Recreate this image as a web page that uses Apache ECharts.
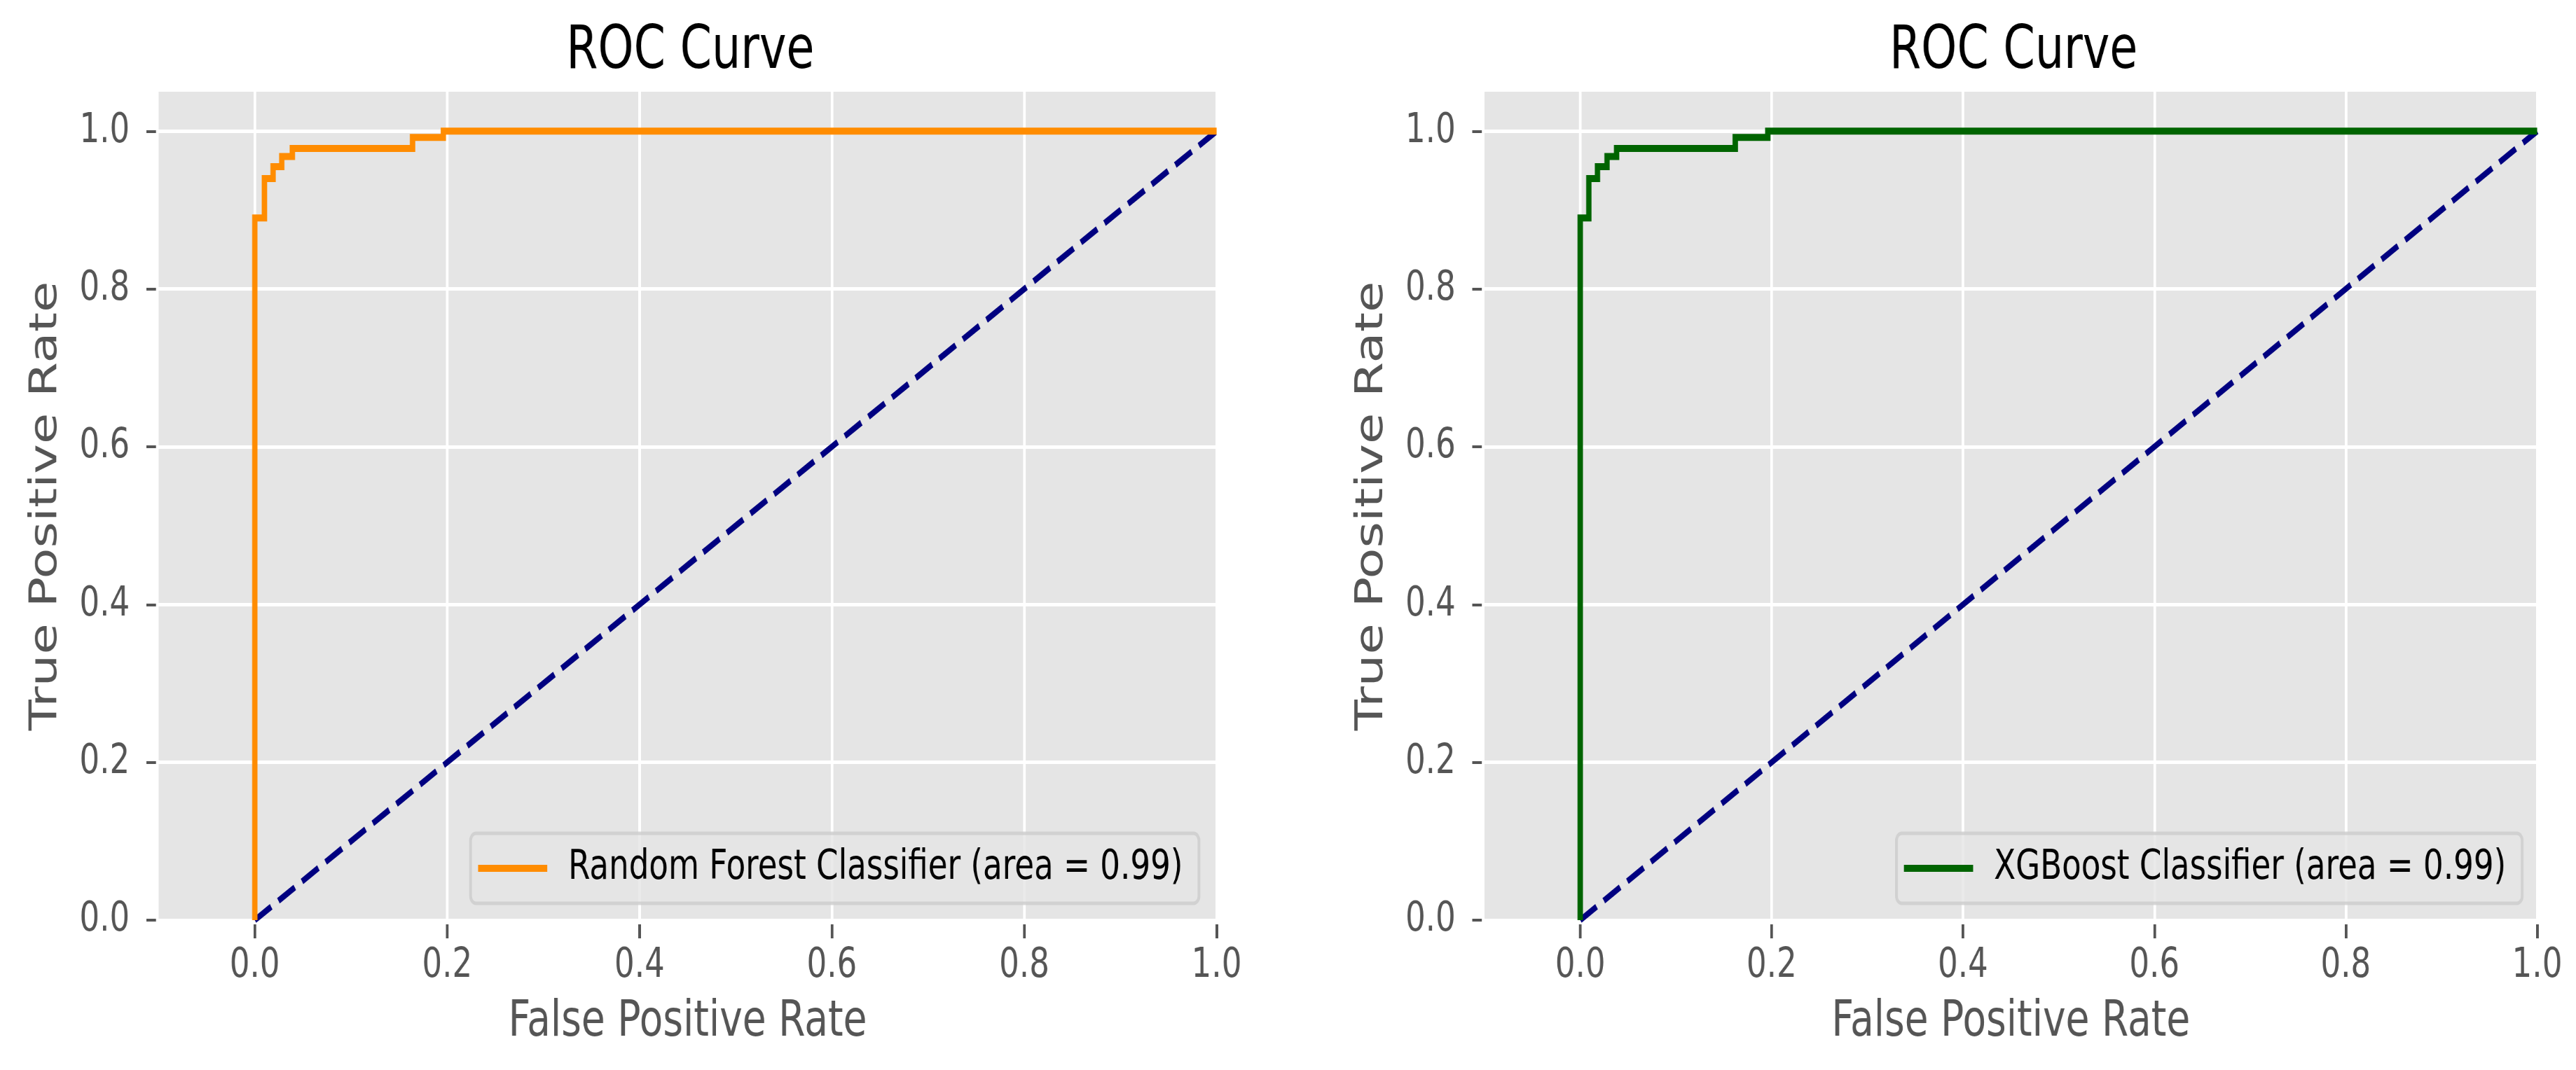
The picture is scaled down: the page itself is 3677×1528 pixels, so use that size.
<!DOCTYPE html>
<html>
<head>
<meta charset="utf-8">
<script src="https://cdn.jsdelivr.net/npm/echarts@6/dist/echarts.min.js"></script>
<style>
  html, body { margin: 0; padding: 0; background: #ffffff; overflow: hidden; }
  #wrap { width: 3677px; height: 1528px; overflow: hidden; position: relative; }
  #chart { width: 4806px; height: 1528px; transform: scaleX(0.765); transform-origin: 0 0; }
</style>
</head>
<body>
<div id="wrap"><div id="chart"></div></div>
<script>
// ---- data ----
const chartTitles = ['ROC Curve', 'ROC Curve'];
const xAxisLabel = 'False Positive Rate';
const yAxisLabel = 'True Positive Rate';
const rfName = 'Random Forest Classifier (area = 0.99)';
const xgbName = 'XGBoost Classifier (area = 0.99)';
const rfFpr  = [0, 0,    0.01, 0.01, 0.019, 0.019, 0.028, 0.028, 0.039, 0.039, 0.164, 0.164, 0.196, 0.196, 1.0];
const rfTpr  = [0, 0.89, 0.89, 0.94, 0.94,  0.955, 0.955, 0.968, 0.968, 0.978, 0.978, 0.992, 0.992, 1.0,   1.0];
const xgbFpr = [0, 0,    0.009, 0.009, 0.018, 0.018, 0.028, 0.028, 0.038, 0.038, 0.162, 0.162, 0.196, 0.196, 1.0];
const xgbTpr = [0, 0.89, 0.89,  0.94,  0.94,  0.955, 0.955, 0.968, 0.968, 0.978, 0.978, 0.992, 0.992, 1.0,   1.0];
const chanceFpr = [0, 1];
const chanceTpr = [0, 1];
const xTicks = [0.0, 0.2, 0.4, 0.6, 0.8, 1.0];
const yTicks = [0.0, 0.2, 0.4, 0.6, 0.8, 1.0];

const FONT = 'DejaVu Sans';
const W = 4806;
const zip = (a, b) => a.map((v, i) => [v, b[i]]);

const grids = [
  { left: 296, top: 131, width: 1974, height: 1183 },
  { left: 2770, top: 131, width: 1964, height: 1183 }
];

function xAxisFor(i) {
  return {
    type: 'value', gridIndex: i, min: -0.1, max: 1.0, offset: 6,
    axisLine: { show: false, onZero: false },
    axisTick: { show: true, customValues: xTicks, length: 20, lineStyle: { color: '#555555', width: 5 } },
    axisLabel: { customValues: xTicks, formatter: v => Number(v).toFixed(1), color: '#555555',
                 fontSize: 59, fontFamily: FONT, margin: 30 },
    splitLine: { show: true, lineStyle: { color: '#ffffff', width: 5 } },
    name: xAxisLabel, nameLocation: 'middle', nameGap: 104, nameMoveOverlap: false,
    nameTextStyle: { fontSize: 72, color: '#555555', fontFamily: FONT }
  };
}
function yAxisFor(i) {
  return {
    type: 'value', gridIndex: i, min: 0, max: 1.05, interval: 0.2, offset: 5,
    axisLine: { show: false, onZero: false },
    axisTick: { show: true, customValues: yTicks, length: 18, lineStyle: { color: '#555555', width: 4 } },
    axisLabel: { customValues: yTicks, formatter: v => Number(v).toFixed(1), color: '#555555',
                 fontSize: 59, fontFamily: FONT, margin: 49 },
    splitLine: { show: true, lineStyle: { color: '#ffffff', width: 5 } },
    name: yAxisLabel, nameLocation: 'middle', nameGap: 169, nameMoveOverlap: false,
    nameTextStyle: { fontSize: 72, color: '#555555', fontFamily: FONT }
  };
}
function chanceSeries(i) {
  return {
    type: 'line', xAxisIndex: i, yAxisIndex: i, data: zip(chanceFpr, chanceTpr),
    symbol: 'none', silent: true, z: 2,
    lineStyle: { color: '#000080', width: 9, type: [36, 16] }
  };
}
function rocSeries(i, name, fpr, tpr, color) {
  return {
    type: 'line', name: name, xAxisIndex: i, yAxisIndex: i, data: zip(fpr, tpr),
    symbol: 'none', z: 3, color: color,
    lineStyle: { color: color, width: 10, join: 'miter' }
  };
}
function legendFor(name, right) {
  return {
    data: [name], right: right, top: 1190, orient: 'horizontal',
    icon: 'rect', itemWidth: 129, itemHeight: 10,
    padding: [20, 30, 20, 14],
    backgroundColor: 'rgba(229,229,229,0.8)', borderColor: 'rgba(204,204,204,0.8)', borderWidth: 5, borderRadius: 10,
    textStyle: { fontSize: 59, fontFamily: FONT, color: '#000000', lineHeight: 60, padding: [0, 0, 0, 34] },
    selectedMode: false
  };
}

const chart = echarts.init(document.getElementById('chart'), null, { renderer: 'canvas' });
chart.setOption({
  animation: false,
  backgroundColor: '#ffffff',
  title: chartTitles.map((t, i) => ({
    text: t, left: grids[i].left + grids[i].width / 2, top: 27, textAlign: 'center',
    textStyle: { fontSize: 85, fontWeight: 'normal', color: '#000000', fontFamily: FONT }
  })),
  grid: grids.map(g => Object.assign({ show: true, backgroundColor: '#E5E5E5', borderWidth: 0, containLabel: false }, g)),
  xAxis: [xAxisFor(0), xAxisFor(1)],
  yAxis: [yAxisFor(0), yAxisFor(1)],
  legend: [legendFor(rfName, W - 2237), legendFor(xgbName, W - 4706)],
  series: [
    chanceSeries(0), chanceSeries(1),
    rocSeries(0, rfName, rfFpr, rfTpr, '#FF8C00'),
    rocSeries(1, xgbName, xgbFpr, xgbTpr, '#006400')
  ]
});
</script>
</body>
</html>
